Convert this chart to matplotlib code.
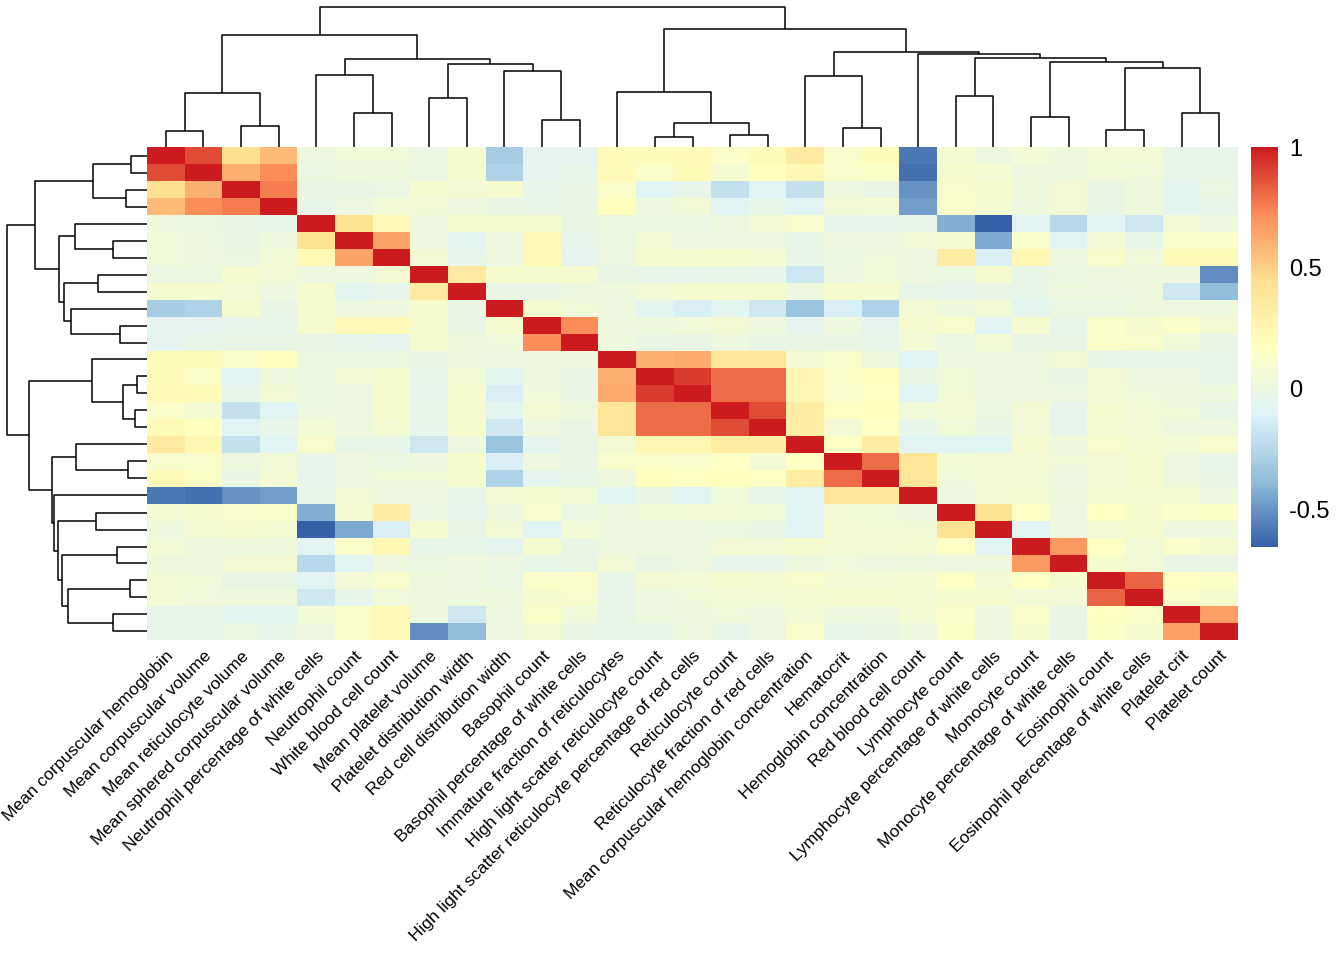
import numpy as np
import matplotlib.pyplot as plt
from matplotlib.colors import LinearSegmentedColormap
from matplotlib.cm import ScalarMappable
from matplotlib.colors import Normalize

plt.rcParams['font.family'] = ['Liberation Sans', 'DejaVu Sans']

labels = [
    "Mean corpuscular hemoglobin", "Mean corpuscular volume",
    "Mean reticulocyte volume", "Mean sphered corpuscular volume",
    "Neutrophil percentage of white cells", "Neutrophil count",
    "White blood cell count", "Mean platelet volume",
    "Platelet distribution width", "Red cell distribution width",
    "Basophil count", "Basophil percentage of white cells",
    "Immature fraction of reticulocytes", "High light scatter reticulocyte count",
    "High light scatter reticulocyte percentage of red cells", "Reticulocyte count",
    "Reticulocyte fraction of red cells", "Mean corpuscular hemoglobin concentration",
    "Hematocrit", "Hemoglobin concentration", "Red blood cell count",
    "Lymphocyte count", "Lymphocyte percentage of white cells",
    "Monocyte count", "Monocyte percentage of white cells",
    "Eosinophil count", "Eosinophil percentage of white cells",
    "Platelet crit", "Platelet count",
]

# lower triangle of the correlation matrix, row 2..29 (cols 1..row-1)
lower = [
    [0.88],
    [0.45, 0.60],
    [0.57, 0.72, 0.76],
    [0.02, 0.01, -0.02, -0.03],
    [0.04, 0.03, -0.01, 0.02, 0.43],
    [0.04, 0.03, 0.00, 0.06, 0.22, 0.65],
    [0.00, 0.01, 0.09, 0.05, 0.02, 0.02, 0.07],
    [0.09, 0.09, 0.07, 0.02, 0.10, -0.07, -0.04, 0.35],
    [-0.30, -0.27, 0.09, -0.01, 0.10, 0.02, 0.02, 0.10, -0.01],
    [-0.06, -0.06, -0.04, -0.03, 0.10, 0.22, 0.22, 0.10, -0.01, 0.09],
    [-0.06, -0.03, -0.02, -0.02, -0.02, -0.04, -0.06, 0.09, 0.03, 0.04, 0.72],
    [0.20, 0.20, 0.13, 0.17, 0.01, 0.01, 0.01, -0.01, 0.03, 0.02, 0.03, 0.03],
    [0.20, 0.13, -0.08, 0.02, 0.00, 0.05, 0.09, -0.03, 0.05, -0.07, 0.03, -0.01, 0.60],
    [0.22, 0.21, -0.03, 0.05, 0.00, 0.02, 0.09, -0.04, 0.09, -0.12, 0.04, -0.01, 0.62, 0.92],
    [0.13, 0.08, -0.20, -0.08, 0.02, 0.02, 0.10, -0.03, 0.09, -0.07, 0.07, 0.03, 0.40, 0.80,
     0.80],
    [0.21, 0.17, -0.08, -0.03, 0.06, 0.02, 0.08, -0.04, 0.09, -0.16, 0.02, -0.01, 0.40, 0.80,
     0.80, 0.88],
    [0.35, 0.23, -0.20, -0.08, 0.11, -0.03, -0.03, -0.16, 0.02, -0.35, -0.05, -0.02, 0.07, 0.25,
     0.24, 0.33, 0.33],
    [0.12, 0.12, 0.02, 0.05, -0.04, 0.02, 0.00, 0.02, 0.09, -0.12, 0.02, -0.01, 0.11, 0.13,
     0.12, 0.15, 0.07, 0.15],
    [0.21, 0.14, -0.01, 0.06, -0.04, 0.02, 0.04, 0.04, 0.09, -0.27, -0.05, -0.03, 0.03, 0.17,
     0.16, 0.17, 0.15, 0.33, 0.80],
    [-0.58, -0.60, -0.50, -0.47, -0.03, 0.05, 0.02, 0.02, -0.03, 0.07, 0.09, 0.06, -0.08, -0.01,
     -0.08, 0.04, -0.03, -0.08, 0.40, 0.40],
    [0.08, 0.10, 0.12, 0.13, -0.42, 0.08, 0.34, 0.01, -0.04, 0.03, 0.12, 0.00, 0.02, 0.04,
     0.05, 0.06, 0.04, -0.08, 0.06, 0.04, 0.02],
    [0.02, 0.08, 0.10, 0.08, -0.65, -0.44, -0.12, 0.09, -0.01, 0.05, -0.08, 0.06, 0.02, 0.02,
     0.02, 0.01, -0.01, -0.08, 0.07, 0.06, 0.05, 0.43],
    [0.06, 0.03, 0.03, 0.03, -0.08, 0.13, 0.24, -0.03, -0.03, -0.05, 0.09, -0.01, 0.02, 0.02,
     0.02, 0.07, 0.05, 0.09, 0.07, 0.06, 0.08, 0.15, -0.08],
    [0.03, 0.03, 0.07, 0.07, -0.24, -0.08, 0.02, 0.00, 0.02, 0.00, -0.03, -0.01, 0.05, -0.01,
     0.02, -0.04, -0.04, 0.03, 0.04, 0.02, 0.03, 0.02, 0.02, 0.68],
    [0.05, 0.04, -0.02, -0.02, -0.08, 0.06, 0.11, 0.03, 0.02, 0.00, 0.13, 0.13, -0.03, 0.07,
     0.06, 0.09, 0.08, 0.12, 0.07, 0.06, 0.08, 0.15, 0.07, 0.15, 0.10],
    [0.06, 0.04, 0.03, 0.03, -0.16, -0.03, 0.04, 0.03, 0.03, 0.03, 0.10, 0.12, -0.03, 0.02,
     0.04, 0.05, 0.06, 0.08, 0.09, 0.09, 0.08, 0.10, 0.10, 0.05, 0.05, 0.82],
    [-0.03, -0.03, -0.07, -0.07, 0.06, 0.13, 0.22, 0.03, -0.16, 0.02, 0.13, 0.04, -0.03, 0.02,
     0.03, 0.04, 0.02, 0.06, 0.02, 0.02, 0.08, 0.13, 0.02, 0.13, -0.01, 0.15, 0.13],
    [-0.03, -0.03, 0.00, -0.03, 0.02, 0.13, 0.22, -0.52, -0.38, 0.02, 0.07, -0.01, -0.03, -0.03,
     0.02, -0.03, 0.02, 0.11, -0.03, -0.02, 0.02, 0.14, 0.02, 0.09, -0.01, 0.14, 0.10, 0.66],
]

# hierarchical clustering merges: (cluster a, cluster b, height); new ids start at 29
merges = [
    (0, 1, 16.3), (2, 3, 21.5), (29, 30, 54.3), (5, 6, 34.2), (4, 32, 71.8),
    (7, 8, 48.7), (10, 11, 27.5), (9, 35, 76.2), (34, 36, 83.3), (33, 37, 88.0),
    (31, 38, 112.0), (13, 14, 9.8), (15, 16, 12.0), (40, 41, 24.3), (12, 42, 54.8),
    (18, 19, 19.2), (17, 44, 71.2), (21, 22, 51.0), (23, 24, 29.7), (25, 26, 17.0),
    (27, 28, 33.7), (48, 49, 79.3), (47, 50, 85.0), (46, 51, 89.5), (20, 52, 92.7),
    (45, 53, 95.3), (43, 54, 117.8), (39, 55, 140.2),
]

n = len(labels)
corr = np.eye(n)
for i, row in enumerate(lower, start=1):
    for j, v in enumerate(row):
        corr[i, j] = v
        corr[j, i] = v

cmap = LinearSegmentedColormap.from_list(
    "rdylbu", ["#3560A8", "#91BFDB", "#E0F3F8", "#FFFFBF", "#FEE090", "#FC8D59", "#CC1B1E"])
vmin, vmax = -0.655, 1.0

W, H = 1344, 960
fig = plt.figure(figsize=(W / 100, H / 100), dpi=100)

def box(x0, y0, x1, y1):
    return [x0 / W, 1 - y1 / H, (x1 - x0) / W, (y1 - y0) / H]

hm_l, hm_r, hm_t, hm_b = 147, 1238, 147, 640

ax = fig.add_axes(box(hm_l, hm_t, hm_r, hm_b))
ax.imshow(corr, cmap=cmap, vmin=vmin, vmax=vmax, aspect='auto',
          extent=(0, n, n, 0), interpolation='nearest')
ax.set_xlim(0, n)
ax.set_ylim(n, 0)
ax.set_yticks([])
ax.set_xticks(np.arange(n) + 0.5)
ax.set_xticklabels(labels, rotation=45, ha='right', va='top',
                   rotation_mode='anchor', fontsize=12.5)
ax.tick_params(axis='x', length=0, pad=6)
for s in ax.spines.values():
    s.set_visible(False)


def draw_tree(dax, vertical):
    pos = {i: i + 0.5 for i in range(n)}
    hgt = {i: 0.0 for i in range(n)}
    for k, (a, b, h) in enumerate(merges):
        xs = [pos[a], pos[a], pos[b], pos[b]]
        ys = [hgt[a], h, h, hgt[b]]
        if vertical:
            dax.plot(xs, ys, color='black', lw=1.1, solid_capstyle='butt')
        else:
            dax.plot(ys, xs, color='black', lw=1.1, solid_capstyle='butt')
        pos[n + k] = (pos[a] + pos[b]) / 2
        hgt[n + k] = h
    dax.axis('off')


tax = fig.add_axes(box(hm_l, 0, hm_r, hm_t))
draw_tree(tax, True)
tax.set_xlim(0, n)
tax.set_ylim(0, hm_t)

lax = fig.add_axes(box(0, hm_t, hm_l, hm_b))
draw_tree(lax, False)
lax.set_ylim(n, 0)
lax.set_xlim(hm_l, 0)

cax = fig.add_axes(box(1251, 147, 1278, 547))
cb = fig.colorbar(ScalarMappable(norm=Normalize(vmin, vmax), cmap=cmap), cax=cax)
cb.outline.set_visible(False)
cb.set_ticks([1, 0.5, 0, -0.5])
cb.set_ticklabels(["1", "0.5", "0", "-0.5"])
cax.tick_params(length=0, pad=8, labelsize=17)

fig.savefig("out.png", dpi=100)
